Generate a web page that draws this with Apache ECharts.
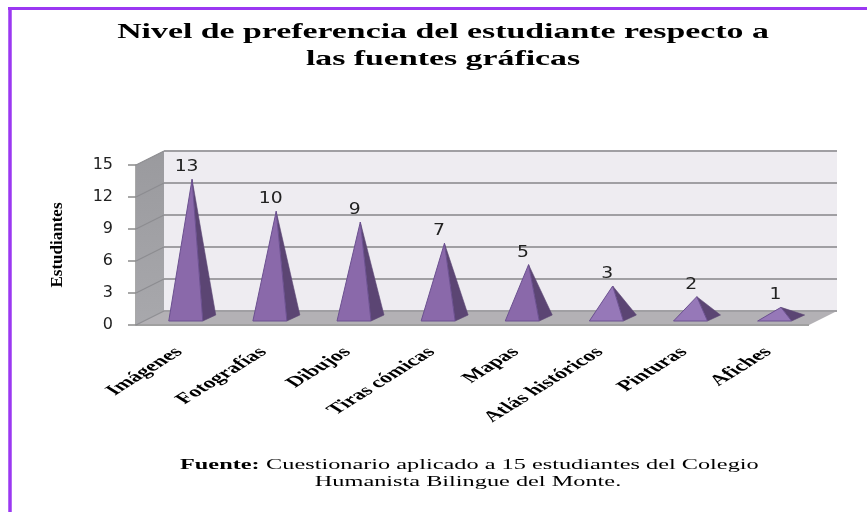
<!DOCTYPE html>
<html><head><meta charset="utf-8">
<style>html,body{margin:0;padding:0;background:#fff}#c{width:867px;height:512px}</style>
<script src="https://cdn.jsdelivr.net/npm/echarts@6/dist/echarts.min.js"></script>
</head><body><div id="c"></div>
<script>
var categories = ['Imágenes','Fotografías','Dibujos','Tiras cómicas','Mapas','Atlás históricos','Pinturas','Afiches'];
var values = [13,10,9,7,5,3,2,1];
var yTicks = [0,3,6,9,12,15];
var titleLines = ['Nivel de preferencia del estudiante respecto a','las fuentes gráficas'];
var yName = 'Estudiantes';
var sourceBold = 'Fuente:';
var sourceRest = ' Cuestionario aplicado a 15 estudiantes del Colegio';
var sourceLine2 = 'Humanista Bilingue del Monte.';

var DX = 28, DY = -14;
var chart = echarts.init(document.getElementById('c'), null, {renderer:'canvas'});

function wall(params, api){
  var cs = params.coordSys, L = cs.x, R = cs.x+cs.width, T = cs.y, B = cs.y+cs.height;
  var kids = [
    {type:'polygon', shape:{points:[[L,T],[L+DX,T+DY],[L+DX,B+DY],[L,B]]},
     style:{fill:new echarts.graphic.LinearGradient(0,0,0,1,[{offset:0,color:'#9a9a9e'},{offset:1,color:'#a8a8ac'}])}},
    {type:'rect', shape:{x:L+DX,y:T+DY,width:R-L,height:B-T}, style:{fill:'#eeecf1'}},
    {type:'polygon', shape:{points:[[L,B],[L+DX,B+DY],[R+DX,B+DY],[R,B]]}, style:{fill:'#b3b1b5'}},
    {type:'line', shape:{x1:L,y1:B,x2:R,y2:B}, style:{stroke:'#a0a0a0',lineWidth:2}}
  ];
  yTicks.forEach(function(t){
    var y = api.coord([0,t])[1];
    kids.push({type:'line', shape:{x1:L+DX,y1:y+DY,x2:R+DX,y2:y+DY}, style:{stroke:'#a09fa3',lineWidth:2}});
    kids.push({type:'line', shape:{x1:L,y1:y,x2:L+DX,y2:y+DY}, style:{stroke:'#8c8c90',lineWidth:1.2}});
  });
  return {type:'group', children:kids};
}
function pyramid(params, api){
  var i = api.value(0), v = api.value(1);
  var p = api.coord([i,v]), z = api.coord([i,0]);
  var cx = z[0];
  var fl = [cx-9.3, z[1]-4], fr = [cx+24.7, z[1]-4], br = [cx+37.7, z[1]-10];
  var apex = [cx+14, p[1]+DY/2];
  var light = v <= 3 ? '#9678b8' : '#8a69aa';
  return {type:'group', children:[
    {type:'polygon', shape:{points:[fr,br,apex]}, style:{fill:'#5b4573',stroke:'#5b4573',lineWidth:0.6}},
    {type:'polygon', shape:{points:[fl,fr,apex]}, style:{fill:light,stroke:'#6b5090',lineWidth:1}},
    {type:'text', x:apex[0]-5.5, y:apex[1]-12, scaleX:1.25, style:{text:String(v), x:0, y:0, align:'center', verticalAlign:'middle',
      font:'15px "DejaVu Sans"', fill:'#222'}}
  ]};
}
function sheared(params, api){
  var i = api.value(0);
  var a = api.coord([i,0]);
  return {type:'group', x:a[0]+1, y:a[1]+25, scaleX:1.6, children:[
    {type:'text', rotation:Math.PI/4, style:{text:categories[i], x:0, y:0, align:'right', verticalAlign:'middle',
      font:'bold 15px "Liberation Serif"', fill:'#000'}}
  ]};
}
function wideText(txt, x, y, sx, font, align){
  return {type:'text', x:x, y:y, scaleX:sx, style:{text:txt, x:0, y:0, align:align||'center', verticalAlign:'middle', font:font, fill:'#000'}, silent:true};
}
chart.setOption({
  animation:false,
  backgroundColor:'#fff',
  grid:{left:136, right:58, top:165, bottom:187, containLabel:false},
  xAxis:{type:'category', data:categories, axisTick:{show:false}, axisLine:{show:false}, axisLabel:{show:false}, splitLine:{show:false}},
  yAxis:{type:'value', min:0, max:15, interval:3, name:yName, nameLocation:'middle', nameGap:70, nameRotate:90,
    nameTextStyle:{fontFamily:'Liberation Serif', fontWeight:'bold', fontSize:17, color:'#000'},
    axisLine:{show:true, lineStyle:{color:'#8c8c8c', width:1.5}},
    axisTick:{show:true, length:8, lineStyle:{color:'#8c8c8c', width:1.5}},
    axisLabel:{fontFamily:'DejaVu Sans', fontSize:16, color:'#222', margin:23, padding:[6,0,0,0]},
    splitLine:{show:false}},
  graphic:[
    {type:'line', shape:{x1:8,y1:8.5,x2:867,y2:8.5}, style:{stroke:'#9b38f2',lineWidth:3}, silent:true},
    {type:'line', shape:{x1:10,y1:7,x2:10,y2:512}, style:{stroke:'#9b38f2',lineWidth:3.5}, silent:true},
    wideText(titleLines[0],443,33,1.61,'bold 21px "Liberation Serif"'),
    wideText(titleLines[1],443,60,1.61,'bold 21px "Liberation Serif"'),
    wideText(sourceBold,180,465,1.62,'bold 15px "Liberation Serif"','left'),
    wideText(sourceRest,260,465,1.62,'15px "Liberation Serif"','left'),
    wideText(sourceLine2,468,482,1.62,'15px "Liberation Serif"')
  ],
  series:[
    {type:'custom', z:1, silent:true, renderItem:wall, data:[[0]], encode:{x:0}, clip:false},
    {type:'custom', z:2, silent:true, renderItem:pyramid, data:values.map(function(v,i){return [i,v];}), encode:{x:0,y:1}, clip:false},
    {type:'custom', z:3, silent:true, renderItem:sheared, data:categories.map(function(c,i){return [i];}), encode:{x:0}, clip:false}
  ]
});
</script></body></html>
